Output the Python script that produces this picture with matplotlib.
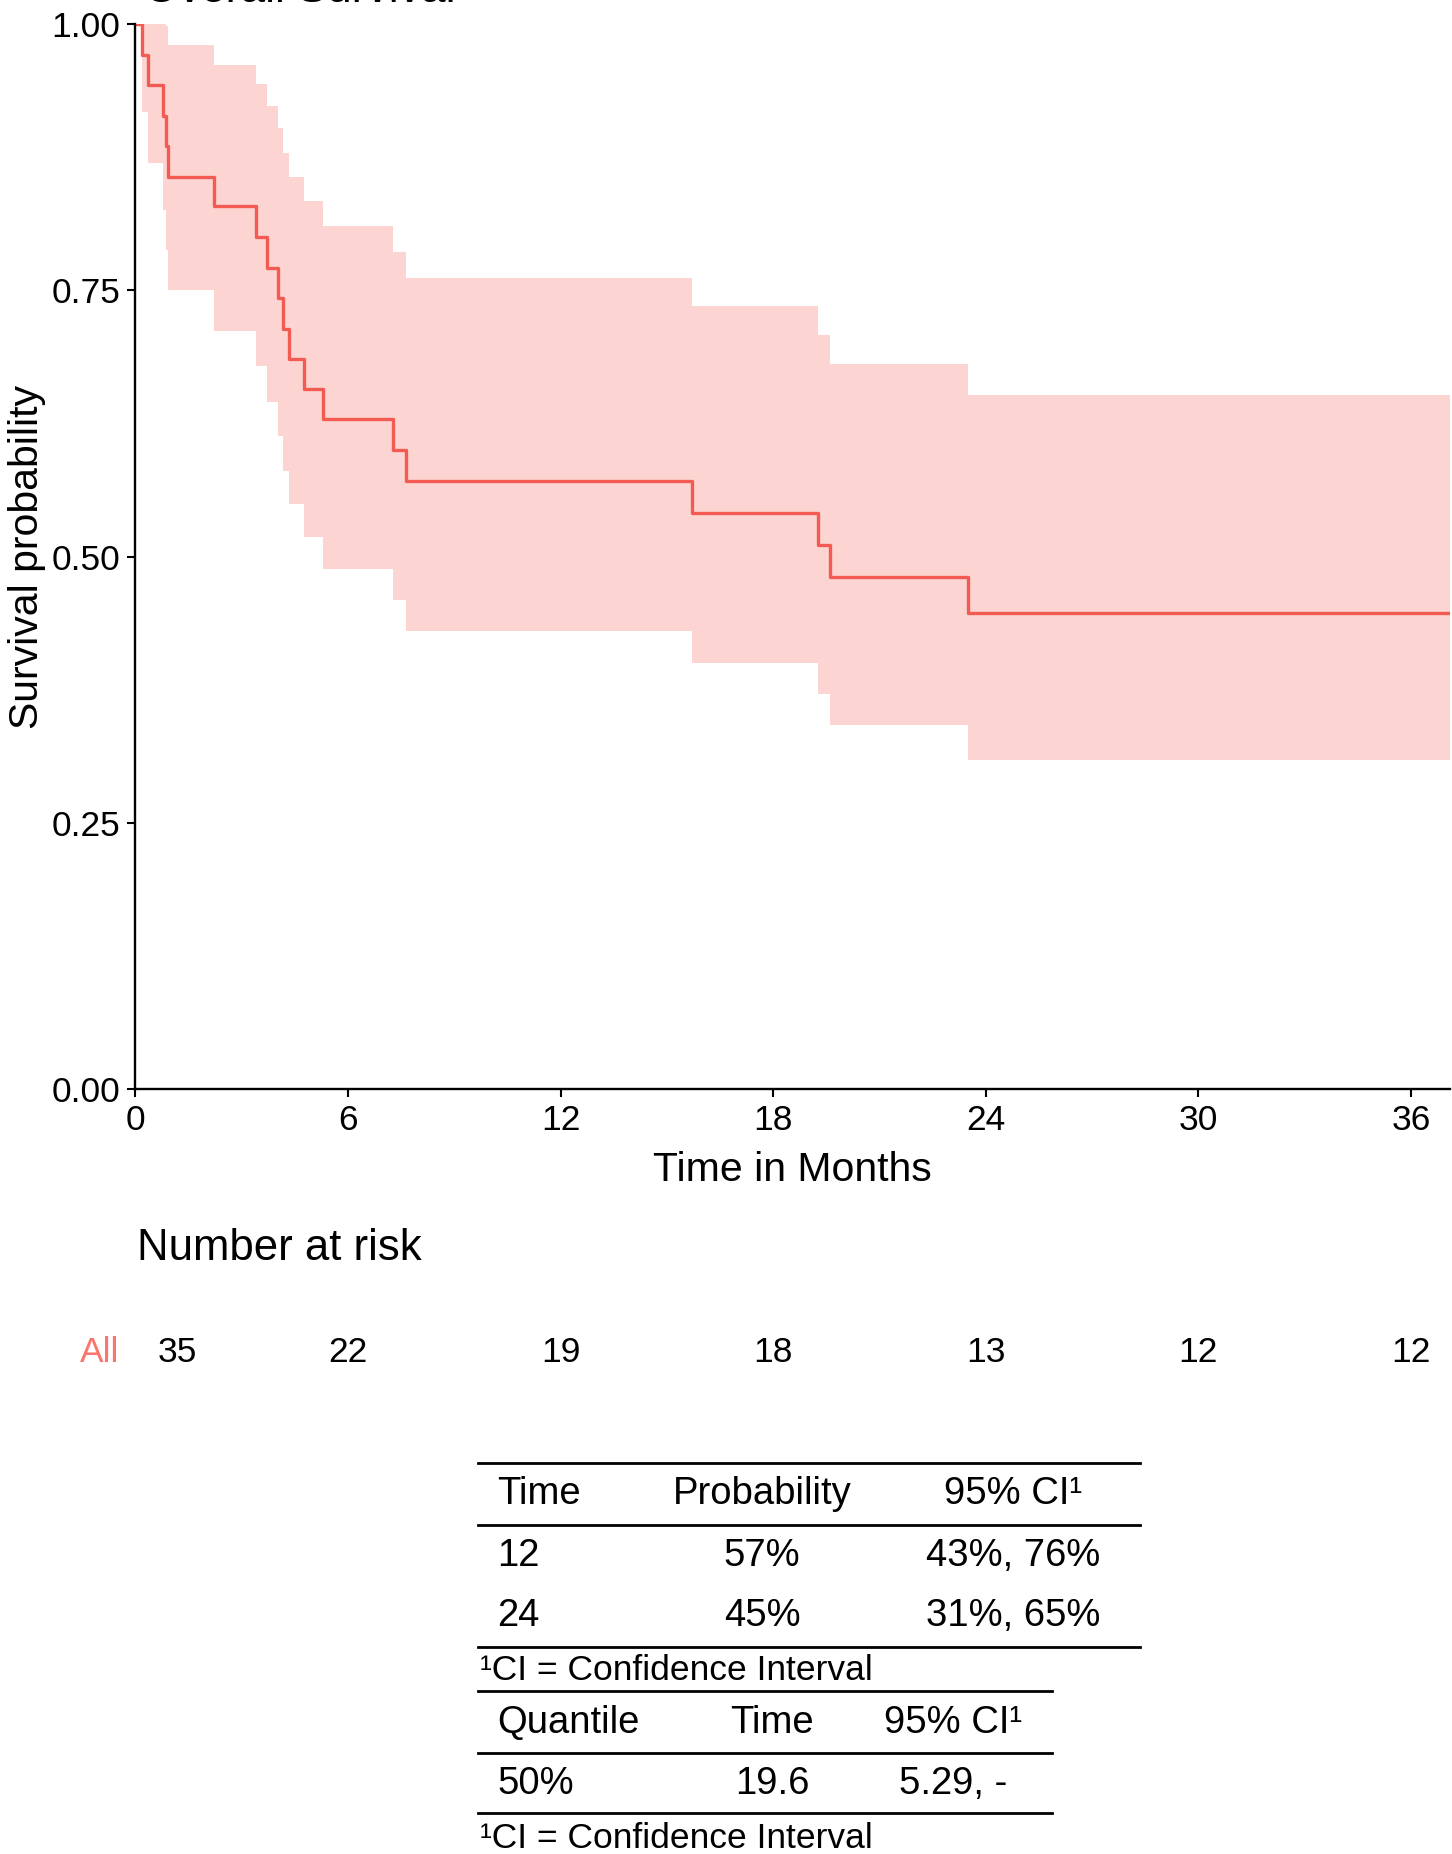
import matplotlib
matplotlib.use("Agg")
import matplotlib.pyplot as plt
import matplotlib.transforms as mtransforms
from matplotlib.lines import Line2D

plt.rcParams['font.family'] = ['Liberation Sans', 'DejaVu Sans']

# Kaplan-Meier estimate
event_times = [0.18, 0.37, 0.77, 0.86, 0.93, 2.23, 3.41, 3.71, 4.02, 4.18,
               4.34, 4.76, 5.29, 7.26, 7.64, 15.72, 19.27, 19.60, 23.50]
surv = [0.971, 0.943, 0.914, 0.886, 0.857, 0.829, 0.800, 0.771, 0.743, 0.714,
        0.686, 0.657, 0.629, 0.600, 0.571, 0.541, 0.511, 0.481, 0.447]
upper = [1.0, 1.0, 1.0, 0.998, 0.981, 0.962, 0.944, 0.923, 0.903, 0.879,
         0.857, 0.834, 0.811, 0.786, 0.762, 0.735, 0.708, 0.681, 0.652]
lower = [0.918, 0.870, 0.826, 0.788, 0.750, 0.712, 0.679, 0.645, 0.613, 0.580,
         0.549, 0.518, 0.4885, 0.459, 0.4305, 0.400, 0.371, 0.342, 0.309]
t_end = 37.1

x_ticks = [0, 6, 12, 18, 24, 30, 36]
y_ticks = [0.0, 0.25, 0.5, 0.75, 1.0]
y_ticklabels = ["0.00", "0.25", "0.50", "0.75", "1.00"]
at_risk = [35, 22, 19, 18, 13, 12, 12]

# summary tables
tab1_header = ["Time", "Probability", "95% CI\u00b9"]
tab1_rows = [["12", "57%", "43%, 76%"],
             ["24", "45%", "31%, 65%"]]
tab2_header = ["Quantile", "Time", "95% CI\u00b9"]
tab2_rows = [["50%", "19.6", "5.29, -"]]
footnote = "\u00b9CI = Confidence Interval"

col = "#F8766D"
line_col = "#F35A51"

W, H = 1452, 1854
fig = plt.figure(figsize=(W / 100, H / 100), dpi=100)

def fx(px):
    return px / W

def fy(py):
    return 1 - py / H

# main plot area
left, right, top, bottom = 135.3, 1450, 24.3, 1089
ax = fig.add_axes([fx(left), fy(bottom), fx(right - left), (bottom - top) / H])

t = [0] + event_times + [t_end]
s = [1.0] + surv + [surv[-1]]
up = [1.0] + upper + [upper[-1]]
lo = [1.0] + lower + [lower[-1]]

ax.fill_between(t, lo, up, step='post', color=col, alpha=0.3, linewidth=0)
ax.step(t, s, where='post', color=line_col, linewidth=2.4)

ax.set_xlim(0, t_end)
ax.set_ylim(0, 1)
ax.set_xticks(x_ticks)
ax.set_yticks(y_ticks)
ax.set_yticklabels(y_ticklabels)
for sp in ['top', 'right']:
    ax.spines[sp].set_visible(False)
for sp in ['left', 'bottom']:
    ax.spines[sp].set_linewidth(1.7)
ax.tick_params(direction='out', length=6, width=1.5, labelsize=25.5,
               colors='black', pad=5)
ax.set_xlabel("Time in Months", fontsize=29.5, labelpad=10)
ax.set_ylabel("Survival probability", fontsize=29.5, labelpad=4)

# title, mostly cut off at the top edge (as in the source image)
fig.text(fx(144), fy(1.5), "Overall Survival", fontsize=32, ha='left',
         va='baseline')

# number at risk
fig.text(fx(137), fy(1249), "Number at risk", fontsize=31.5, ha='left',
         va='center')
blend = mtransforms.blended_transform_factory(ax.transData, fig.transFigure)
fig.text(fx(119), fy(1352), "All", fontsize=25.5, ha='right', va='center',
         color=col)
for i, (xt, n) in enumerate(zip(x_ticks, at_risk)):
    shift = mtransforms.offset_copy(blend, fig=fig, x=30 if i == 0 else 0,
                                    units='points')
    ax.text(xt, fy(1352), str(n), fontsize=25.5, ha='center', va='center',
            transform=shift)

# tables
def rule(y, x0, x1):
    fig.add_artist(Line2D([fx(x0), fx(x1)], [fy(y), fy(y)], color='black',
                          linewidth=2.0, transform=fig.transFigure))

def row(y, cells, xs, aligns, size=27.5):
    for c, x, a in zip(cells, xs, aligns):
        fig.text(fx(x), fy(y), c, fontsize=size, ha=a, va='center')

t1_x = [497, 762, 1013]
t1_al = ['left', 'center', 'center']
rule(1463, 478, 1140)
row(1494, tab1_header, t1_x, t1_al)
rule(1525, 478, 1140)
row(1556, tab1_rows[0], t1_x, t1_al)
row(1616, tab1_rows[1], t1_x, t1_al)
rule(1647, 478, 1140)
fig.text(fx(480), fy(1671), footnote, fontsize=25.5, ha='left', va='center')

t2_x = [497, 772, 953]
t2_al = ['left', 'center', 'center']
rule(1691, 478, 1052)
row(1723, tab2_header, t2_x, t2_al)
rule(1753, 478, 1052)
row(1784, tab2_rows[0], t2_x, t2_al)
rule(1813, 478, 1052)
fig.text(fx(480), fy(1839), footnote, fontsize=25.5, ha='left', va='center')

fig.savefig("out.png", dpi=100)
